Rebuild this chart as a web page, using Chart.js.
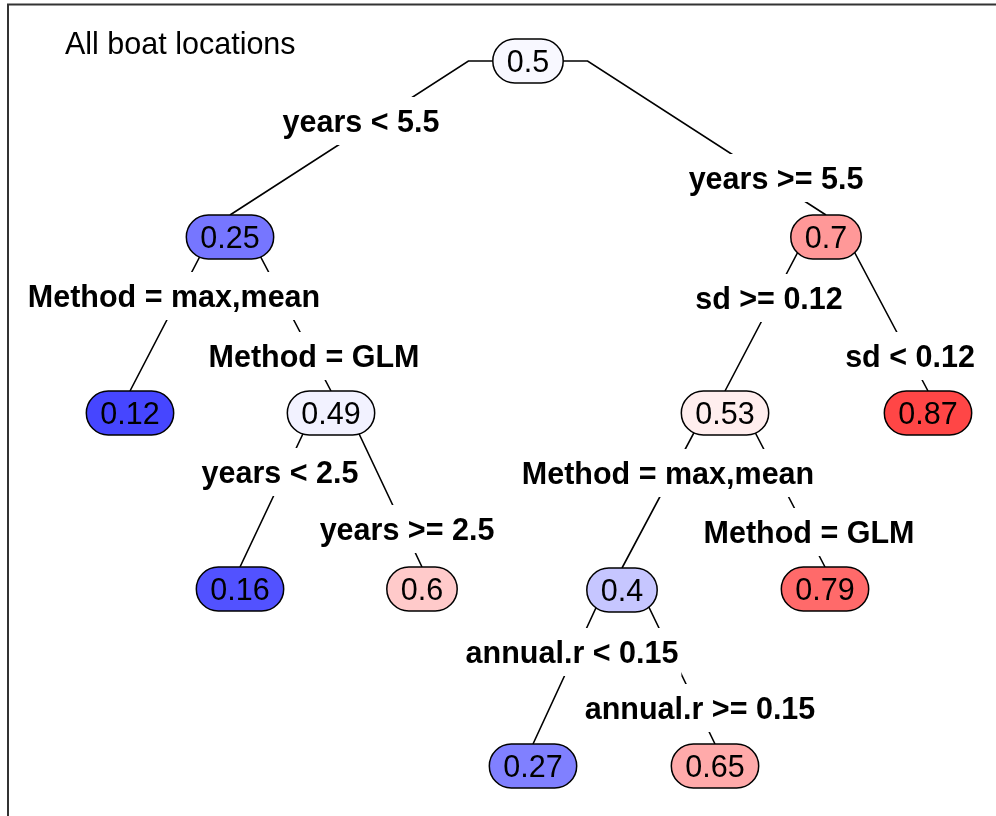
<!DOCTYPE html>
<html><head><meta charset="utf-8">
<style>html,body{margin:0;padding:0;background:#fff;}#wrap{width:996px;height:816px;}</style>
<script src="https://cdn.jsdelivr.net/npm/chart.js@4.4.0/dist/chart.umd.min.js"></script>
</head><body><div id="wrap"><canvas id="c" width="996" height="816"></canvas></div>
<script>
// ---- data ----
const titleText = "All boat locations";
const nodeValues = ["0.5","0.25","0.7","0.12","0.49","0.53","0.87","0.16","0.6","0.4","0.79","0.27","0.65"];
const nodeX = [528, 230, 826, 130, 331, 725, 928, 240, 422, 622, 825, 533, 715];
const nodeY = [61, 237, 237, 413, 413, 413, 413, 589, 589, 590, 589, 766, 766];
const nodeParent = [null, 0, 0, 1, 1, 2, 2, 4, 4, 5, 5, 9, 9];
const nodeColors = ["#F8F8FF","#7676FF","#FF9898","#4646FF","#F2F2FF","#FFEEEE","#FF4646","#5252FF","#FFCACA","#C6C6FF","#FF6A6A","#8080FF","#FFAAAA"];
const splitLabels = ["years < 5.5","years >= 5.5","Method = max,mean","Method = GLM","sd >= 0.12","sd < 0.12","years < 2.5","years >= 2.5","Method = max,mean","Method = GLM","annual.r < 0.15","annual.r >= 0.15"];
const splitX = [361, 776, 174, 314, 769, 910, 280, 407, 668, 809, 572, 700];
const splitY = [121, 178, 296, 356, 298, 356, 472, 529, 473, 532, 652, 708];

// ---- style ----
const FONT = '"Liberation Sans", Arial, Helvetica, sans-serif';
const FS = 30.5;
const BASE_OFF = 10.5;
const BOX_H = 44;
const BRANCH = 0.2;

const edgeSets = [];
for (let i = 0; i < nodeX.length; i++) {
  const p = nodeParent[i];
  if (p === null) continue;
  edgeSets.push({
    type: 'line',
    data: [
      {x: nodeX[p], y: nodeY[p]},
      {x: nodeX[p] + BRANCH * (nodeX[i] - nodeX[p]), y: nodeY[p]},
      {x: nodeX[i], y: nodeY[i] - BOX_H / 2}
    ],
    borderColor: '#000', borderWidth: 1.6, pointRadius: 0, tension: 0, fill: false
  });
}

const treePlugin = {
  id: 'tree',
  afterDatasetsDraw(chart) {
    const ctx = chart.ctx, xs = chart.scales.x, ys = chart.scales.y;
    ctx.save();
    // frame
    ctx.strokeStyle = '#333'; ctx.lineWidth = 2;
    ctx.beginPath();
    ctx.moveTo(xs.getPixelForValue(8), ys.getPixelForValue(816));
    ctx.lineTo(xs.getPixelForValue(8), ys.getPixelForValue(4.5));
    ctx.lineTo(xs.getPixelForValue(996), ys.getPixelForValue(4.5));
    ctx.stroke();
    // title
    ctx.fillStyle = '#000';
    ctx.font = `${FS}px ${FONT}`;
    ctx.textAlign = 'left'; ctx.textBaseline = 'alphabetic';
    ctx.fillText(titleText, xs.getPixelForValue(65), ys.getPixelForValue(54));
    // split labels
    ctx.font = `bold ${FS}px ${FONT}`;
    ctx.textAlign = 'center';
    splitLabels.forEach((t, i) => {
      const px = xs.getPixelForValue(splitX[i]), py = ys.getPixelForValue(splitY[i]);
      const w = ctx.measureText(t).width;
      ctx.fillStyle = '#fff';
      ctx.fillRect(px - w / 2 - 3, py - 24, w + 6, 48);
      ctx.fillStyle = '#000';
      ctx.fillText(t, px, py + BASE_OFF);
    });
    // nodes
    ctx.font = `${FS}px ${FONT}`;
    nodeValues.forEach((t, i) => {
      const px = xs.getPixelForValue(nodeX[i]), py = ys.getPixelForValue(nodeY[i]);
      const w = ctx.measureText(t).width + 28, h = BOX_H, r = h / 2;
      ctx.beginPath();
      ctx.roundRect(px - w / 2, py - h / 2, w, h, r);
      ctx.fillStyle = nodeColors[i];
      ctx.fill();
      ctx.lineWidth = 1.5; ctx.strokeStyle = '#000';
      ctx.stroke();
      ctx.fillStyle = '#000';
      ctx.fillText(t, px, py + BASE_OFF);
    });
    ctx.restore();
  }
};

new Chart(document.getElementById('c'), {
  type: 'scatter',
  data: {
    datasets: [
      ...edgeSets,
      {type: 'scatter', data: nodeX.map((x, i) => ({x, y: nodeY[i]})), pointRadius: 0}
    ]
  },
  options: {
    responsive: false, animation: false, devicePixelRatio: 1,
    layout: {padding: 0},
    plugins: {legend: {display: false}, tooltip: {enabled: false}},
    scales: {
      x: {type: 'linear', min: 0, max: 996, display: false},
      y: {type: 'linear', min: 0, max: 816, reverse: true, display: false}
    }
  },
  plugins: [treePlugin]
});
</script></body></html>
